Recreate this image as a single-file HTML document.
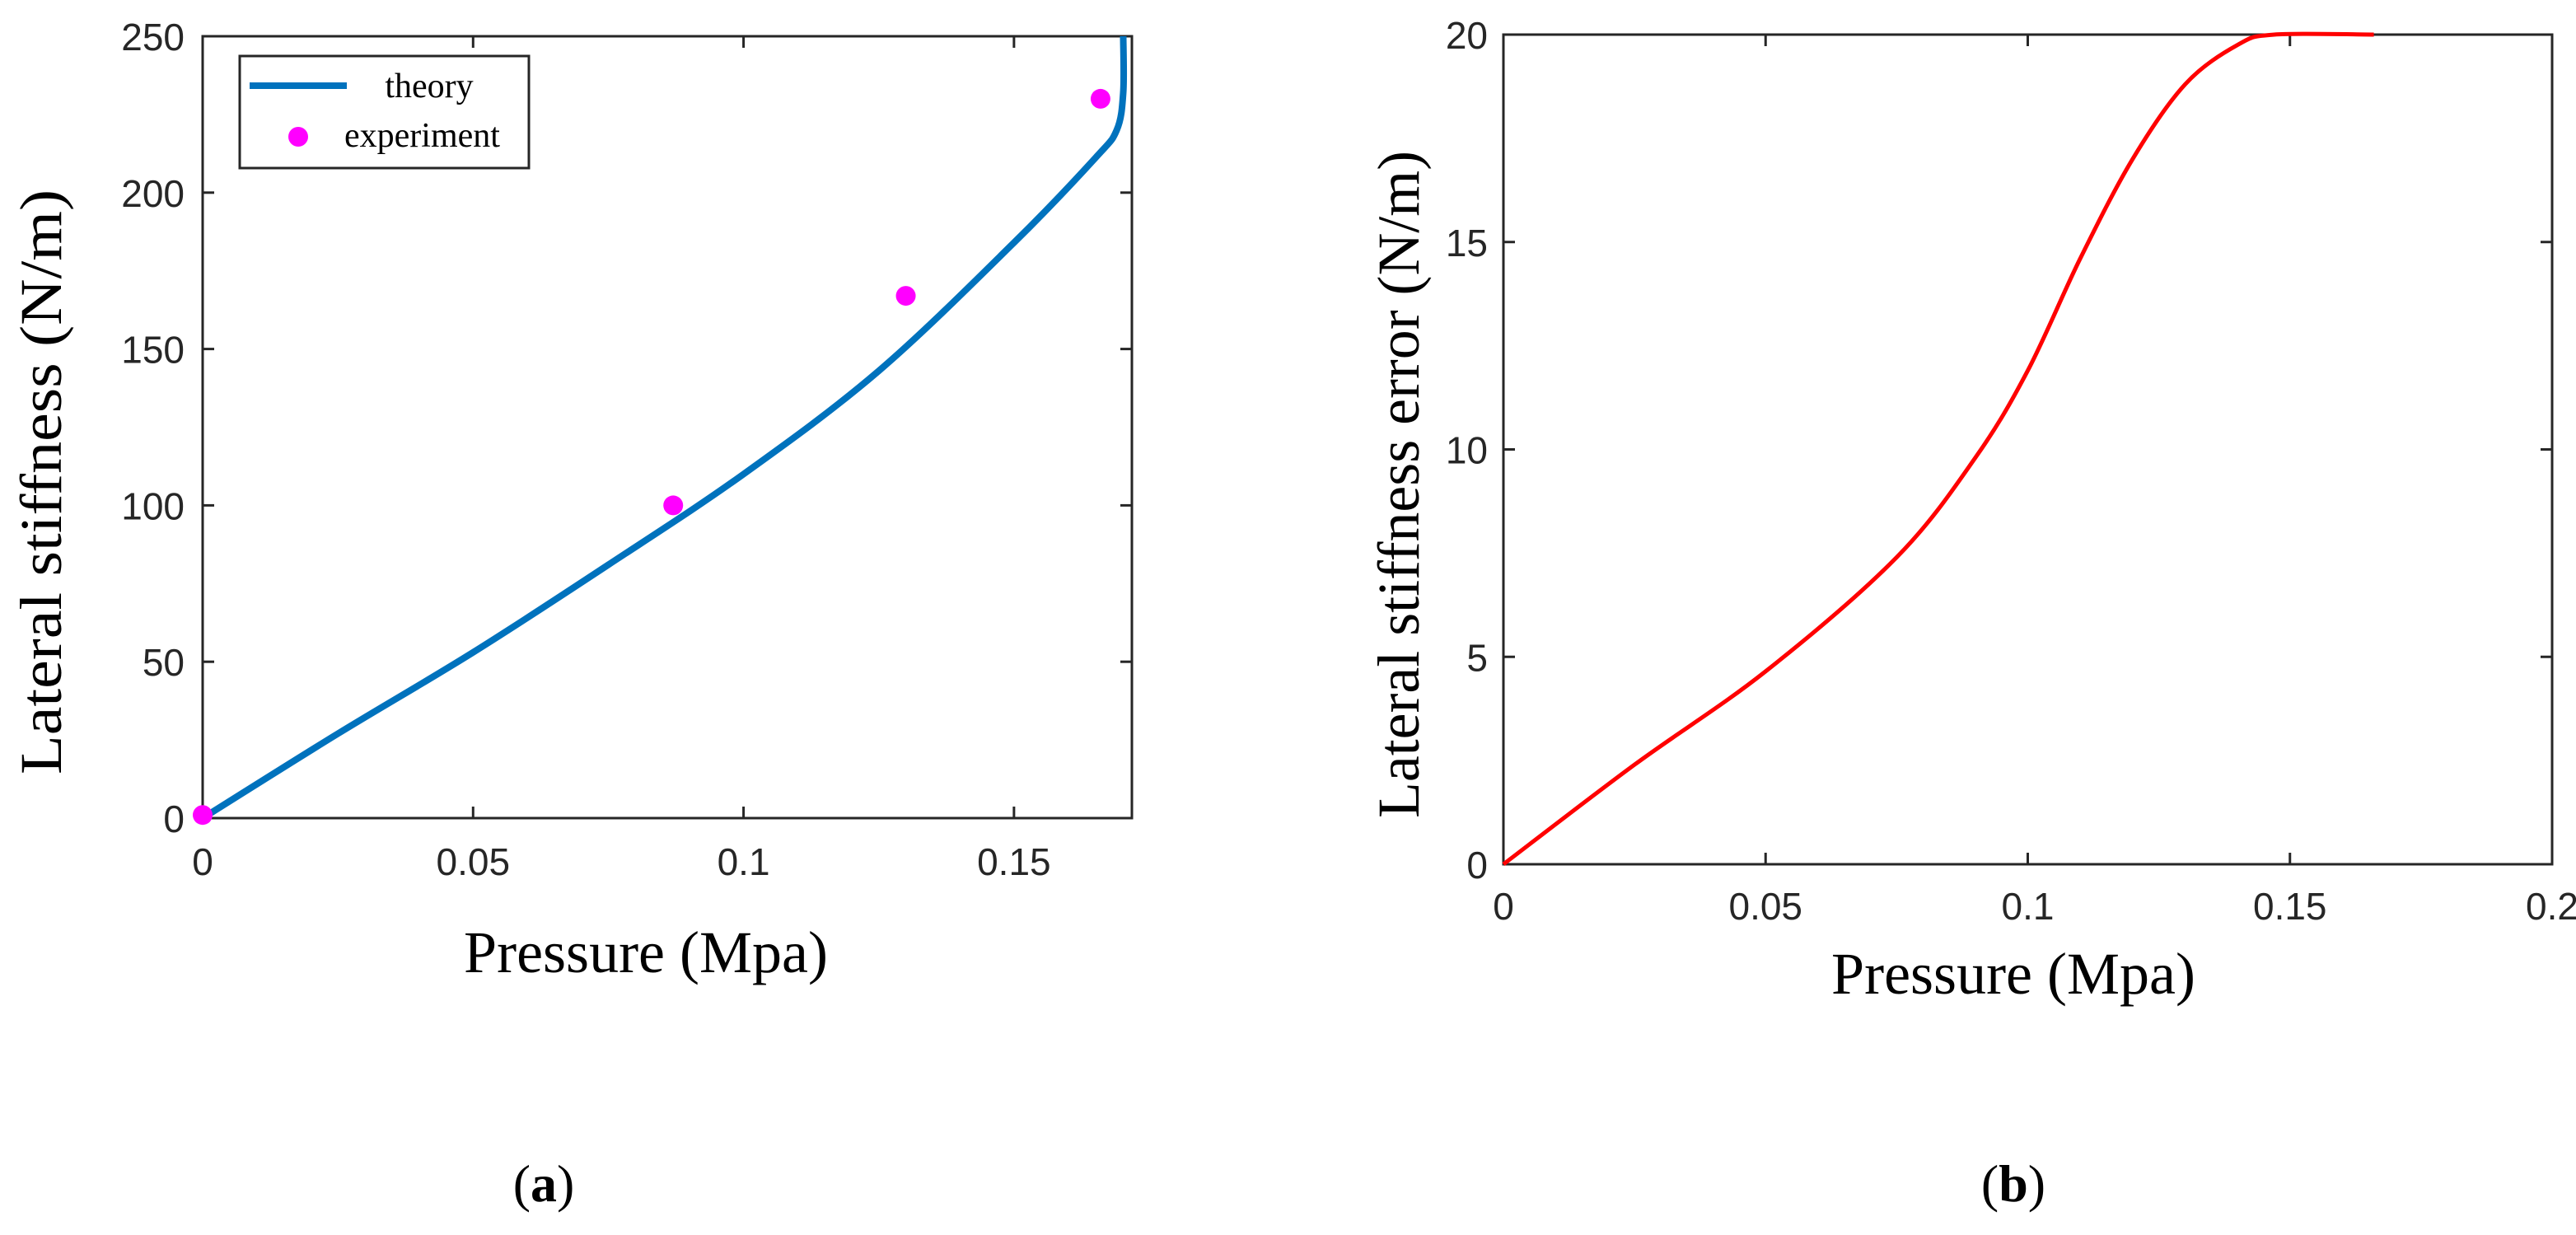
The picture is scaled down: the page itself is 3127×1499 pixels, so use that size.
<!DOCTYPE html>
<html><head><meta charset="utf-8"><style>
html,body{margin:0;padding:0;background:#fff;}
svg{display:block;}
.tk{font-family:"Liberation Sans",Arial,sans-serif;font-size:46px;fill:#262626;}
.tt{font-family:"Liberation Serif","Times New Roman",serif;font-size:72px;fill:#000;}
.lg{font-family:"Liberation Serif","Times New Roman",serif;font-size:42px;fill:#000;}
.cap{font-family:"Liberation Serif","Times New Roman",serif;font-size:64px;fill:#000;}
</style></head><body>
<svg id="fig" width="3127" height="1499" viewBox="0 0 3127 1499" xmlns="http://www.w3.org/2000/svg">
<g id="pa"></g>
<g id="pb"></g>
<text class="cap" x="660" y="1458" text-anchor="middle">(<tspan font-weight="bold">a</tspan>)</text>
<text class="cap" x="2444" y="1458" text-anchor="middle">(<tspan font-weight="bold">b</tspan>)</text>
</svg>
<script>
// Panel (a) data
const aTheoryX = [0, 0.025, 0.05, 0.075, 0.1, 0.125, 0.15, 0.165, 0.169, 0.1702, 0.1702];
const aTheoryY = [0, 27, 53, 81, 110, 143, 184, 211, 220, 232, 250];
const aExpX = [0, 0.087, 0.13, 0.166];
const aExpY = [1, 100, 167, 230];
const aXTicks = [0, 0.05, 0.1, 0.15];
const aXTickLabels = ["0", "0.05", "0.1", "0.15"];
const aYTicks = [0, 50, 100, 150, 200, 250];
const aYTickLabels = ["0", "50", "100", "150", "200", "250"];
// Panel (b) data
const bX = [0, 0.025, 0.05, 0.075, 0.09, 0.1, 0.11, 0.12, 0.13, 0.14, 0.147, 0.166];
const bY = [0, 2.4, 4.65, 7.4, 9.8, 11.9, 14.6, 17.0, 18.8, 19.75, 20, 20];
const bXTicks = [0, 0.05, 0.1, 0.15, 0.2];
const bXTickLabels = ["0", "0.05", "0.1", "0.15", "0.2"];
const bYTicks = [0, 5, 10, 15, 20];
const bYTickLabels = ["0", "5", "10", "15", "20"];

const NS = "http://www.w3.org/2000/svg";
function mk(parent, tag, attrs, text) {
  const e = document.createElementNS(NS, tag);
  for (const k in attrs) e.setAttribute(k, attrs[k]);
  if (text !== undefined) e.textContent = text;
  parent.appendChild(e);
  return e;
}
function smoothPath(xs, ys, sx, sy) {
  const p = xs.map((x, i) => [sx(x), sy(ys[i])]);
  let d = "M" + p[0][0] + "," + p[0][1];
  for (let i = 0; i < p.length - 1; i++) {
    const p0 = p[i - 1] || p[i], p1 = p[i], p2 = p[i + 1], p3 = p[i + 2] || p2;
    const c1x = p1[0] + (p2[0] - p0[0]) / 6, c1y = p1[1] + (p2[1] - p0[1]) / 6;
    const c2x = p2[0] - (p3[0] - p1[0]) / 6, c2y = p2[1] - (p3[1] - p1[1]) / 6;
    d += " C" + c1x + "," + c1y + " " + c2x + "," + c2y + " " + p2[0] + "," + p2[1];
  }
  return d;
}
function axes(g, L, R, T, B, sx, sy, xt, xtl, yt, ytl, xLabY, yLabX) {
  const tl = 14;
  xt.forEach((v, i) => {
    const x = sx(v);
    const t1 = mk(g, "line", {x1: x, x2: x, y1: B, y2: B - tl, stroke: "#262626", "stroke-width": 3});
    
    
    const t2 = mk(g, "line", {x1: x, x2: x, y1: T, y2: T + tl, stroke: "#262626", "stroke-width": 3});
    
    
    const lb = mk(g, "text", {class: "tk", x: x, y: xLabY, "text-anchor": "middle"}, xtl[i]);
    
    
  });
  yt.forEach((v, i) => {
    const y = sy(v);
    const t1 = mk(g, "line", {x1: L, x2: L + tl, y1: y, y2: y, stroke: "#262626", "stroke-width": 3});
    
    
    const t2 = mk(g, "line", {x1: R, x2: R - tl, y1: y, y2: y, stroke: "#262626", "stroke-width": 3});
    
    
    const lb = mk(g, "text", {class: "tk", x: yLabX, y: y + 17, "text-anchor": "end"}, ytl[i]);
    
    
  });
  const box = mk(g, "rect", {x: L, y: T, width: R - L, height: B - T, fill: "none", stroke: "#262626", "stroke-width": 3});
  
  
}

// Panel a
(function () {
  const g = document.getElementById("pa");
  const L = 246, R = 1374, T = 44, B = 993, xmax = 0.1718, ymax = 250;
  const sx = v => L + v / xmax * (R - L);
  const sy = v => B - v / ymax * (B - T);
  axes(g, L, R, T, B, sx, sy, aXTicks, aXTickLabels, aYTicks, aYTickLabels, 1062, 224);
  const line = mk(g, "path", {d: smoothPath(aTheoryX, aTheoryY, sx, sy), fill: "none", stroke: "#0072BD", "stroke-width": 8, "stroke-linejoin": "round"});
  
  
  aExpX.forEach((x, i) => {
    const c = mk(g, "circle", {cx: sx(x), cy: sy(aExpY[i]), r: 12, fill: "#FF00FF"});
    
    
  });
  const lg = mk(g, "g", {});
  
  
  mk(lg, "rect", {x: 291, y: 68, width: 351, height: 136, fill: "#fff", stroke: "#262626", "stroke-width": 3});
  mk(lg, "line", {x1: 303, x2: 421, y1: 104, y2: 104, stroke: "#0072BD", "stroke-width": 8});
  const t1 = mk(lg, "text", {class: "lg", x: 521, y: 118, "text-anchor": "middle"}, "theory");
  
  
  mk(lg, "circle", {cx: 362, cy: 166, r: 12, fill: "#FF00FF"});
  const t2 = mk(lg, "text", {class: "lg", x: 418, y: 178}, "experiment");
  
  
  const xt = mk(g, "text", {class: "tt", x: 784, y: 1180, "text-anchor": "middle"}, "Pressure (Mpa)");
  
  
  const yt = mk(g, "text", {class: "tt", x: 0, y: 0, "text-anchor": "middle", textLength: 710, lengthAdjust: "spacingAndGlyphs", transform: "translate(74,585) rotate(-90)"}, "Lateral stiffness (N/m)");
  
  
})();

// Panel b
(function () {
  const g = document.getElementById("pb");
  const L = 1825, R = 3098, T = 42, B = 1049, xmax = 0.2, ymax = 20;
  const sx = v => L + v / xmax * (R - L);
  const sy = v => B - v / ymax * (B - T);
  axes(g, L, R, T, B, sx, sy, bXTicks, bXTickLabels, bYTicks, bYTickLabels, 1116, 1806);
  const line = mk(g, "path", {d: smoothPath(bX, bY, sx, sy), fill: "none", stroke: "#FF0000", "stroke-width": 5, "stroke-linejoin": "round"});
  
  
  const xt = mk(g, "text", {class: "tt", x: 2444, y: 1206, "text-anchor": "middle"}, "Pressure (Mpa)");
  
  
  const yt = mk(g, "text", {class: "tt", x: 0, y: 0, "text-anchor": "middle", textLength: 810, lengthAdjust: "spacingAndGlyphs", transform: "translate(1722,588) rotate(-90)"}, "Lateral stiffness error (N/m)");
  
  
})();
</script>
</body></html>
